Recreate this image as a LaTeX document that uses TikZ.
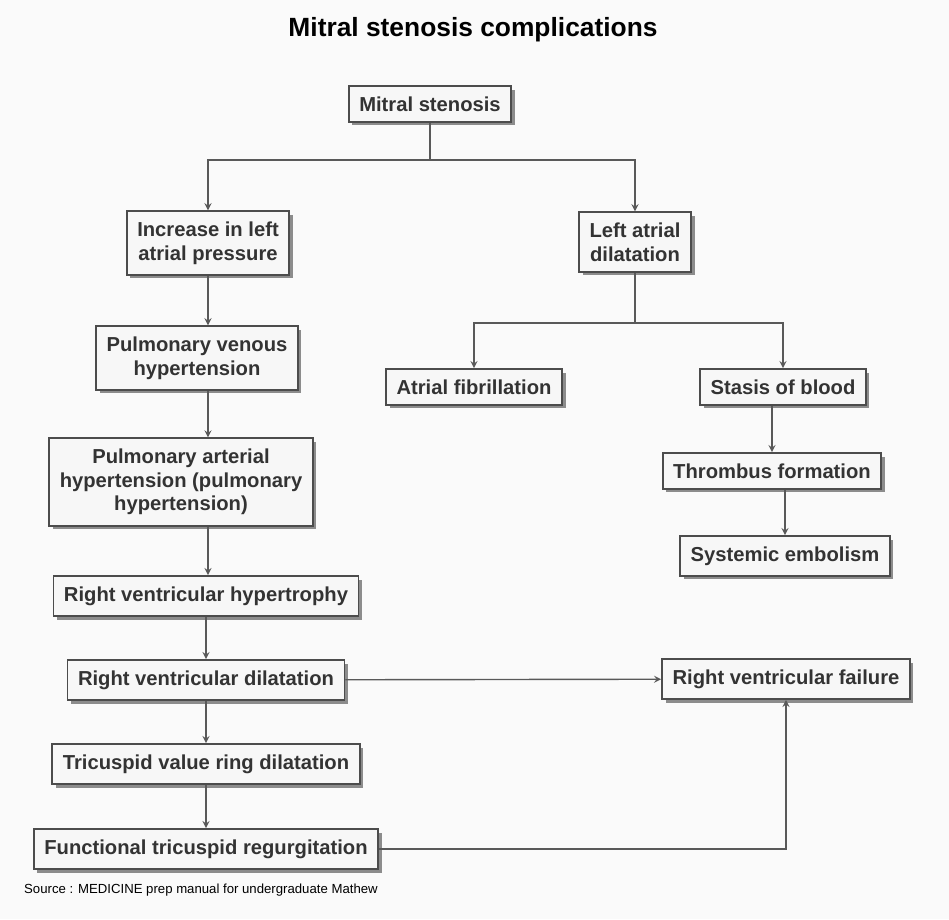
\documentclass[tikz,border=0pt]{standalone}
\usepackage{fontspec}
\setmainfont{Liberation Sans}
\usetikzlibrary{arrows,shadows,positioning}

\begin{document}
\begin{tikzpicture}[x=0.02cm,y=-0.02cm,>=stealth,->,
box/.style={draw=black!70, line width=1pt, fill=black!3, align=center, inner sep=6pt,
  drop shadow={shadow xshift=2pt, shadow yshift=-2pt, fill=black!45, opacity=1},
  font=\fontsize{11.5}{13.5}\selectfont\bfseries, text=black!80},
link/.style={draw=black!65, line width=0.8pt}]
\useasboundingbox [fill=black!2] (0,0) rectangle (949,919);
\node (title) at (473,30) [font=\fontsize{15}{18}\selectfont\bfseries] {Mitral stenosis complications};
\node (ms) at (430,104) [box] {Mitral stenosis};
\node (ilap) at (208,243) [box] {Increase in left\\atrial pressure};
\node (lad) at (635,242) [box] {Left atrial\\dilatation};
\node (pvh) at (197,358) [box] {Pulmonary venous\\hypertension};
\node (af) at (474,387) [box] {Atrial fibrillation};
\node (sob) at (783,387) [box] {Stasis of blood};
\node (pah) at (181,482) [box] {Pulmonary arterial\\hypertension (pulmonary\\hypertension)};
\node (tf) at (772,471) [box] {Thrombus formation};
\node (se) at (785,556) [box] {Systemic embolism};
\node (rvh) at (206,596) [box] {Right ventricular hypertrophy};
\node (rvd) at (206,680) [box] {Right ventricular dilatation};
\node (rvf) at (786,679) [box] {Right ventricular failure};
\node (trd) at (206,764) [box] {Tricuspid value ring dilatation};
\node (ftr) at (206,849) [box] {Functional tricuspid regurgitation};
\node (src) at (18,890) [anchor=west, font=\fontsize{7.5}{9}\selectfont] {Source : MEDICINE prep manual for undergraduate Mathew};
\coordinate (split1) at (430,160);
\coordinate (split2) at (635,323);
\begin{scope}[every path/.style={link}]
\draw [-] (ms) -- (split1);
\draw (split1) -| (ilap);
\draw (split1) -| (lad);
\draw [-] (lad) -- (split2);
\draw (split2) -| (af);
\draw (split2) -| (sob);
\draw (sob.south -| tf) -- (tf);
\draw (tf.south -| se) -- (se);
\draw (ilap.south) -- (ilap.south |- pvh.north);
\draw (ilap.south |- pvh.south) -- (ilap.south |- pah.north);
\draw (ilap.south |- pah.south) -- (ilap.south |- rvh.north);
\draw (rvh) -- (rvd);
\draw (rvd) -- (trd);
\draw (trd) -- (ftr);
\draw (rvd) -- (rvf);
\draw (ftr) -| (rvf);
\end{scope}
\end{tikzpicture}
\end{document}
